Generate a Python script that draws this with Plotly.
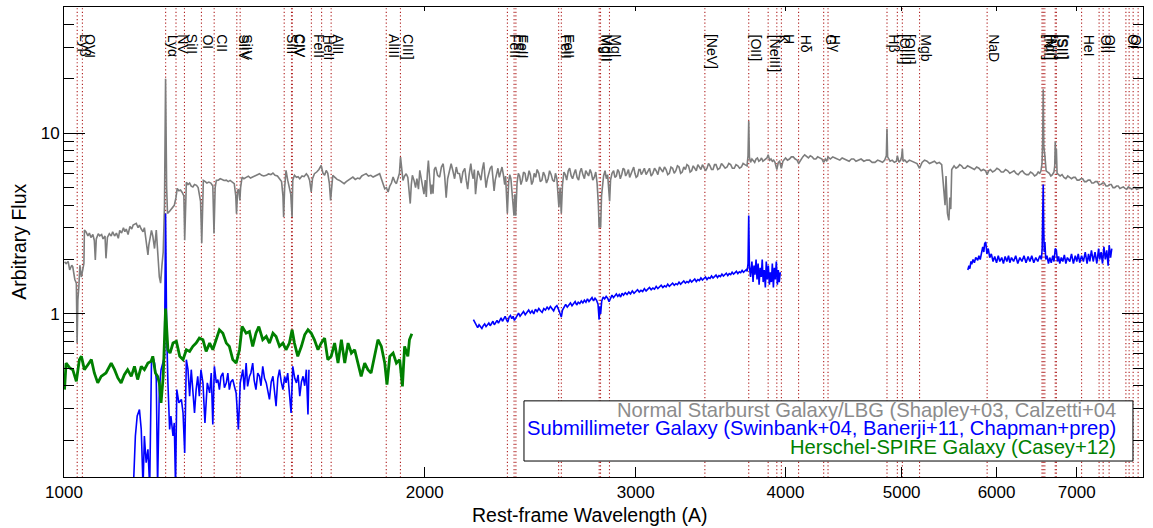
import numpy as np
import plotly.graph_objects as go

FONT = "Liberation Sans, Arial, Helvetica, sans-serif"

# ---------------- line list (rest-frame wavelength, label) ----------------
line_wave = [1025.7, 1036.0, 1215.67, 1240.1, 1260.4, 1302.2, 1334.5, 1393.8, 1402.8,
             1526.7, 1548.2, 1550.8, 1608.5, 1640.4, 1670.8, 1857.4, 1908.7,
             2344.2, 2374.5, 2382.8, 2586.7, 2600.2, 2796.4, 2803.5, 2852.1,
             3425.9, 3727.1, 3868.8, 3933.7, 3968.5, 4101.7, 4304.4, 4340.5,
             4861.3, 4958.9, 5006.8, 5175.0, 5892.5, 6548.0, 6562.8, 6583.5,
             6716.4, 6730.8, 7065.0, 7307.0, 7364.0, 7449.0, 7693.0, 7741.0, 7801.0, 7876.0]
line_name = ["Lyβ", "OVI", "Lyα", "NV", "SiII", "OI", "CII", "SiIV", "SiIV",
             "SiII", "CIV", "CIV", "FeII", "HeII", "AlII", "AlIII", "CIII]",
             "FeII", "FeII", "FeII", "FeII", "FeII", "MgII", "MgII", "MgI",
             "[NeV]", "[OII]", "[NeIII]", "K", "H", "Hδ", "G", "Hγ",
             "Hβ", "[OIII]", "[OIII]", "Mgb", "NaD", "[NII]", "Hα", "[NII]",
             "[SII]", "[SII]", "HeI", "OII", "OII", "", "OI", "OI", "", ""]

# ---------------- Normal starburst / LBG (grey) ----------------
gray_uv = [(1001,1.94),(1004,1.90),(1008,1.95),(1011,1.75),(1015,1.86),(1017,1.82),(1021,1.55),(1024,1.48),
 (1025.5,0.69),(1027,1.2),(1029,1.42),(1031,1.86),(1034,1.6),(1037,1.82),(1039,1.9),(1040,2.91),(1043,2.85),
 (1047,2.7),(1050,2.8),(1053,2.65),(1057,2.75),(1060,2.55),(1062,1.99),(1064,2.6),(1068,2.78),(1071,2.7),
 (1075,2.75),(1078,2.6),(1082,2.7),(1084,2.03),(1087,2.65),(1091,2.78),(1095,2.7),(1098,2.85),(1102,2.7),
 (1106,2.8),(1110,2.62),(1113,2.9),(1117,2.8),(1121,3.0),(1124,2.85),(1127,2.95),(1131,2.75),(1135,3.05),
 (1139,2.95),(1142,3.1),(1146,3.15),(1149,3.17),(1153,3.0),(1156,3.1),(1160,2.95),(1164,2.85),(1167,3.0),
 (1171,2.55),(1175,2.12),(1177,2.4),(1179,2.56),(1183,2.9),(1186,2.7),(1190,2.3),(1194,2.91),(1197,2.4),
 (1199,1.9),(1201,1.6),(1204,1.48),(1207,1.85),(1210,2.2),(1213,4.0),(1215.5,20.0),(1218,5.0),(1220,3.6),
 (1225,3.7),(1230,3.85),(1236,3.99),(1240,4.4),(1243,4.95),(1247,4.8),(1251,4.85),(1255,4.7),(1259,4.5),
 (1261,2.56),(1263,4.6),(1265,5.35),(1269,5.2),(1273,5.3),(1277,5.1),(1281,5.04),(1285,5.2),(1290,5.15),
 (1294,5.0),(1297,4.53),(1300,4.2),(1303,2.46),(1305,4.8),(1307,5.48),(1312,5.4),(1316,5.3),(1321,5.37),
 (1326,5.3),(1331,5.1),(1334,2.79),(1337,5.0),(1340,5.48),(1345,5.5),(1350,5.6),(1355,5.55),(1360,5.48),
 (1366,5.5),(1371,5.4),(1376,5.48),(1382,5.35),(1387,5.26),(1391,4.5),(1393,3.59),(1396,4.83),(1399,4.9),
 (1402,4.25),(1404,5.0),(1408,5.72),(1413,5.6),(1419,5.7),(1425,5.78),(1431,5.65),(1437,5.72),(1443,5.8),
 (1450,5.9),(1456,5.97),(1462,5.85),(1468,5.8),(1475,5.85),(1481,5.95),(1488,5.9),(1494,6.02),(1500,5.85),
 (1507,5.8),(1513,5.6),(1519,5.4),(1523,4.5),(1525,3.44),(1528,5.0),(1532,6.23),(1537,5.5),(1542,5.04),
 (1546,4.6),(1550,3.44),(1552,5.5),(1557,5.85),(1563,5.7),(1568,5.75),(1573,5.6),(1580,5.8),(1586,5.75),
 (1593,5.97),(1598,5.8),(1603,5.5),(1608,4.73),(1612,5.6),(1618,5.97),(1625,6.1),(1632,6.3),(1639,6.63),
 (1645,6.0),(1650,5.85),(1655,6.23),(1660,6.0),(1665,5.3),(1669,4.25),(1672,5.2),(1676,5.85),(1683,5.7),
 (1690,5.55),(1698,5.48),(1705,5.4),(1713,5.26),(1720,5.4),(1727,5.5),(1735,5.6),(1742,5.72),(1750,5.55),
 (1758,5.65),(1765,5.6),(1772,5.8),(1780,5.9),(1787,5.97),(1795,5.8),(1803,5.85),(1811,5.72),(1818,5.8),
 (1826,5.85),(1834,5.97),(1840,5.6),(1847,5.2),(1852,4.93),(1858,5.0),(1864,4.73),(1870,5.1),(1876,5.3),
 (1882,5.72),(1888,5.4),(1894,5.26),(1900,5.6),(1905,6.0),(1909,7.38),(1913,6.2),(1918,5.48),(1924,5.8),
 (1930,5.97),(1936,5.7),(1941,4.5),(1945,4.08),(1949,5.2),(1953,5.85),(1959,5.5),(1965,5.0),(1970,5.6),
 (1976,4.9),(1981,6.23),(1986,5.7),(1992,5.2),(1997,4.6),(2002,5.5),(2006,4.44),(2010,6.0),(2014,7.07),
 (2019,5.6),(2024,4.6),(2028,5.2),(2032,4.63),(2037,6.3),(2042,6.5),(2050,5.85),(2058,5.72),(2065,6.5),
 (2072,6.78),(2078,5.8),(2084,4.4),(2090,5.6),(2097,6.3),(2104,6.78),(2111,6.2),(2118,5.6),(2125,6.5),
 (2131,6.0),(2138,5.97)]

gray_opt = [(2145,5.3),(2152,6.1),(2160,6.4),(2166,5.5),(2172,4.9),(2178,5.9),(2185,6.8),(2190,6.0),(2195,5.6),
 (2200,6.3),(2205,4.6),(2210,5.4),(2215,6.2),(2221,5.9),(2228,5.5),(2234,6.3),(2240,6.9),(2245,5.8),(2250,5.0),
 (2256,5.6),(2262,5.9),(2268,6.4),(2275,6.6),(2280,5.7),(2285,4.8),(2290,5.5),(2296,6.1),(2302,6.4),(2308,5.7),
 (2314,6.0),(2320,6.5),(2326,5.9),(2332,5.2),(2336,5.8),(2340,4.9),(2344,3.6),(2350,5.4),(2355,5.9),(2360,5.6),
 (2367,4.2),(2374,3.5),(2378,4.6),(2382,3.5),(2388,5.3),(2394,6.0),(2400,5.8),(2406,5.2),(2412,5.5),(2418,6.1),
 (2425,6.0),(2431,5.4),(2437,5.6),(2444,6.2),(2450,5.9),(2456,5.2),(2462,5.4),(2468,6.0),(2475,5.7),(2482,6.3),
 (2490,6.0),(2497,5.4),(2505,5.5),(2512,6.1),(2520,5.8),(2527,5.3),(2535,5.6),(2542,6.2),(2550,5.9),(2557,5.5),
 (2565,5.4),(2571,6.0),(2578,5.6),(2585,4.4),(2588,3.9),(2594,5.0),(2600,3.6),(2606,5.2),(2613,6.1),(2620,5.9),
 (2627,5.5),(2635,6.2),(2642,6.4),(2650,5.8),(2657,5.6),(2665,6.0),(2672,6.3),(2680,5.7),(2688,5.5),(2695,6.1),
 (2702,6.4),(2710,5.9),(2718,5.6),(2725,6.2),(2733,6.0),(2740,5.8),(2748,6.3),(2755,6.0),(2762,5.5),(2770,5.7),
 (2778,6.1),(2785,5.3),(2792,4.0),(2796,3.0),(2800,3.4),(2804,3.0),(2809,4.5),(2815,5.6),(2820,5.8),(2828,6.2),
 (2835,5.6),(2842,5.9),(2848,4.9),(2853,4.2),(2858,5.5),(2866,6.0),(2875,6.2),(2882,5.7),(2890,5.8),(2898,6.3),
 (2905,6.1),(2912,5.6),(2920,5.9),(2928,6.4),(2935,6.3),(2942,5.8),(2950,6.0),(2958,6.3),(2965,5.7),(2972,5.9),
 (2980,6.2),(2988,6.5),(2995,6.0),(3002,5.7),(3010,5.8),(3018,6.3),(3025,6.3),(3032,5.9),(3040,6.1),(3050,6.4),
 (3060,5.9),(3070,6.2),(3080,6.4),(3090,5.8),(3100,6.0),(3110,6.4),(3120,6.2),(3130,5.9),(3140,6.5),(3150,6.3),
 (3160,6.1),(3170,6.5),(3180,6.3),(3190,5.9),(3200,6.0),(3210,6.5),(3220,6.4),(3230,6.0),(3240,6.2),(3250,6.6),
 (3260,6.5),(3270,6.0),(3280,6.1),(3290,6.5),(3300,6.3),(3310,6.7),(3320,6.6),(3330,6.1),(3340,6.2),(3350,6.6),
 (3360,6.4),(3370,6.2),(3380,6.7),(3390,6.5),(3400,6.3),(3410,6.7),(3420,6.5),(3430,6.2),(3440,6.4),(3450,6.8),
 (3460,6.6),(3470,6.3),(3480,6.3),(3490,6.7),(3500,6.7),(3512,6.3),(3525,6.4),(3537,6.8),(3550,6.6),(3562,6.4),
 (3575,6.5),(3587,6.8),(3600,6.7),(3612,6.4),(3625,6.4),(3637,6.7),(3650,6.6),(3662,6.4),(3675,6.5),(3687,6.8),
 (3700,6.7),(3715,6.6),(3722,7.5),(3727,11.7),(3732,7.4),(3740,6.9),(3750,7.2),(3760,7.0),(3770,6.9),(3780,7.2),
 (3790,7.3),(3800,7.0),(3810,7.1),(3820,7.3),(3830,7.0),(3840,7.1),(3850,7.2),(3860,7.3),(3869,7.6),(3880,7.1),
 (3890,7.2),(3900,7.0),(3910,7.1),(3920,6.9),(3934,6.3),(3945,6.9),(3955,7.0),(3968,6.4),(3980,7.0),(3990,7.2),
 (4000,7.3),(4015,7.1),(4030,7.2),(4045,7.4),(4060,7.4),(4075,7.2),(4090,7.1),(4102,6.8),(4120,7.2),(4135,7.4),
 (4150,7.6),(4165,7.4),(4180,7.3),(4195,7.5),(4210,7.4),(4225,7.2),(4240,7.2),(4255,7.4),(4270,7.3),(4290,7.2),
 (4304,6.9),(4318,7.2),(4330,7.0),(4340,7.4),(4360,7.2),(4380,7.4),(4400,7.3),(4420,7.2),(4440,7.1),(4460,7.3),
 (4480,7.2),(4500,7.1),(4520,7.0),(4540,7.2),(4560,7.2),(4580,7.0),(4600,7.1),(4625,7.2),(4650,7.0),(4675,7.1),
 (4700,7.1),(4725,6.9),(4750,6.9),(4775,7.1),(4800,7.0),(4820,6.9),(4840,7.1),(4855,7.5),(4861,10.6),(4867,7.4),
 (4890,7.0),(4910,7.1),(4930,6.9),(4950,7.0),(4959,7.5),(4975,6.9),(4990,7.1),(5000,7.4),(5007,8.2),(5014,7.0),
 (5030,7.1),(5050,6.9),(5075,7.1),(5100,7.0),(5125,6.9),(5150,6.8),(5175,6.4),(5200,6.9),(5225,7.1),(5250,7.0),
 (5275,6.8),(5300,6.9),(5325,7.0),(5350,6.8),(5375,6.9),(5400,6.7),(5420,5.2),(5435,4.0),(5445,5.8),(5460,3.6),
 (5475,3.3),(5485,4.4),(5495,3.8),(5505,6.3),(5530,6.6),(5550,6.4),(5570,6.5),(5590,6.7),(5610,6.6),(5630,6.4),
 (5650,6.4),(5675,6.6),(5700,6.5),(5725,6.4),(5750,6.3),(5775,6.5),(5800,6.4),(5825,6.2),(5850,6.3),(5875,6.2),
 (5893,5.9),(5910,6.2),(5930,6.3),(5955,6.1),(5980,6.2),(6005,6.4),(6030,6.3),(6055,6.1),(6080,6.1),(6105,6.3),
 (6130,6.2),(6155,6.0),(6180,6.1),(6205,6.2),(6230,6.0),(6255,5.9),(6280,6.1),(6305,6.2),(6330,6.0),(6355,5.9),
 (6380,5.9),(6405,6.1),(6430,6.0),(6455,5.8),(6480,5.9),(6500,6.1),(6520,6.0),(6535,6.2),(6548,6.8),(6556,9.0),
 (6563,17.5),(6570,8.5),(6584,7.5),(6600,6.2),(6620,6.1),(6640,6.0),(6660,5.8),(6680,5.9),(6700,6.1),(6710,6.6),
 (6717,9.0),(6724,6.8),(6731,8.2),(6740,6.0),(6760,5.9),(6780,5.8),(6805,5.9),(6830,5.7),(6855,5.6),(6880,5.8),
 (6905,5.7),(6930,5.6),(6955,5.7),(6980,5.7),(7005,5.5),(7030,5.5),(7055,5.6),(7080,5.6),(7105,5.4),(7130,5.4),
 (7155,5.5),(7180,5.5),(7205,5.3),(7230,5.3),(7255,5.4),(7280,5.4),(7305,5.2),(7330,5.2),(7355,5.3),(7380,5.3),
 (7405,5.1),(7430,5.1),(7455,5.2),(7480,5.2),(7505,5.0),(7530,5.0),(7555,5.1),(7580,5.1),(7605,4.95),(7630,5.0),
 (7655,5.05),(7680,4.95),(7705,4.9),(7730,5.05),(7755,4.95),(7780,4.9),(7805,5.0),(7830,5.0),(7855,4.9),
 (7880,4.95),(7950,5.0)]

# ---------------- Submillimeter galaxy (blue), three spectral pieces ----------------
blue_uv = [(1098,0.10),(1142,0.10),(1147,0.211),(1150,0.249),(1151,0.272),(1156,0.295),(1160,0.229),(1164,0.11),
 (1167,0.211),(1171,0.15),(1175,0.178),(1179,0.11),(1183,0.534),(1186,0.582),(1190,0.534),(1194,0.433),
 (1197,0.11),(1201,0.381),(1205,0.491),(1209,0.534),(1213,0.582),(1215.5,3.59),(1218,0.816),(1221,0.415),
 (1225,0.229),(1228,0.272),(1233,0.211),(1236,0.249),(1239,0.11),(1242,0.381),(1247,0.322),(1253,0.336),
 (1257,0.283),(1261,0.17),(1265,0.558),(1269,0.491),(1273,0.35),(1277,0.491),(1281,0.365),(1285,0.283),
 (1289,0.381),(1293,0.451),(1297,0.35),(1301,0.491),(1306,0.415),(1311,0.249),(1317,0.415),(1323,0.365),
 (1327,0.471),(1331,0.244),(1335,0.512),(1340,0.415),(1344,0.433),(1348,0.381),(1352,0.45),(1357,0.471),
 (1361,0.39),(1366,0.415),(1370,0.47),(1374,0.381),(1378,0.42),(1383,0.433),(1387,0.40),(1392,0.365),
 (1398,0.229),(1403,0.415),(1410,0.491),(1414,0.381),(1419,0.534),(1423,0.397),(1428,0.45),(1432,0.471),
 (1437,0.534),(1441,0.43),(1446,0.381),(1451,0.47),(1456,0.451),(1460,0.40),(1465,0.512),(1470,0.44),
 (1475,0.415),(1480,0.37),(1484,0.336),(1489,0.42),(1494,0.451),(1498,0.38),(1503,0.308),(1508,0.44),
 (1513,0.491),(1518,0.42),(1523,0.381),(1528,0.45),(1532,0.415),(1537,0.47),(1542,0.381),(1547,0.283),
 (1552,0.512),(1558,0.44),(1563,0.415),(1568,0.46),(1573,0.35),(1578,0.42),(1583,0.451),(1588,0.40),
 (1593,0.491),(1598,0.277),(1601,0.491)]

blue_mid = [(2196,0.93),(2202,0.90),(2208,0.86),(2214,0.84),(2220,0.87),(2226,0.85),(2232,0.83),(2238,0.86),
 (2244,0.88),(2250,0.85),(2256,0.87),(2262,0.89),(2268,0.86),(2274,0.88),(2280,0.91),(2286,0.87),(2292,0.9),
 (2298,0.92),(2304,0.89),(2310,0.93),(2316,0.95),(2322,0.91),(2328,0.94),(2334,0.97),(2340,0.93),(2346,0.9),
 (2352,0.96),(2358,0.98),(2364,0.94),(2370,0.97),(2376,0.92),(2382,0.95),(2388,0.99),(2395,1.01),(2402,0.97),
 (2410,1.0),(2418,1.03),(2426,0.99),(2434,1.02),(2442,1.05),(2450,1.01),(2458,1.04),(2466,1.0),(2474,1.06),
 (2482,1.03),(2490,1.07),(2498,1.04),(2506,1.02),(2514,1.07),(2522,1.05),(2530,1.09),(2538,1.06),(2546,1.1),
 (2554,1.07),(2562,1.04),(2570,1.09),(2578,1.11),(2586,1.06),(2592,1.0),(2600,0.96),(2606,1.05),(2614,1.1),
 (2622,1.13),(2630,1.09),(2638,1.12),(2646,1.15),(2654,1.11),(2662,1.14),(2670,1.17),(2678,1.12),(2686,1.16),
 (2694,1.14),(2702,1.18),(2710,1.15),(2718,1.19),(2726,1.16),(2734,1.21),(2742,1.17),(2750,1.2),(2758,1.23),
 (2766,1.18),(2774,1.22),(2782,1.19),(2790,1.13),(2796,0.93),(2800,1.1),(2804,1.0),(2810,1.18),(2818,1.24),
 (2826,1.21),(2834,1.25),(2842,1.22),(2850,1.17),(2858,1.23),(2866,1.27),(2874,1.23),(2882,1.26),(2890,1.29),
 (2898,1.25),(2906,1.28),(2914,1.24),(2922,1.3),(2930,1.27),(2940,1.31),(2950,1.28),(2960,1.32),(2970,1.29),
 (2980,1.34),(2990,1.3),(3000,1.33),(3010,1.36),(3020,1.32),(3030,1.35),(3040,1.33),(3050,1.38),(3060,1.34),
 (3070,1.37),(3080,1.4),(3090,1.36),(3100,1.39),(3110,1.37),(3120,1.42),(3130,1.38),(3140,1.41),(3150,1.44),
 (3160,1.4),(3170,1.43),(3180,1.41),(3190,1.46),(3200,1.42),(3210,1.45),(3220,1.48),(3230,1.44),(3240,1.47),
 (3250,1.45),(3260,1.5),(3270,1.46),(3280,1.49),(3290,1.52),(3300,1.48),(3310,1.51),(3320,1.49),(3330,1.54),
 (3340,1.5),(3350,1.53),(3360,1.56),(3370,1.51),(3380,1.55),(3390,1.53),(3400,1.58),(3410,1.54),(3420,1.57),
 (3430,1.6),(3440,1.55),(3450,1.59),(3460,1.57),(3470,1.62),(3480,1.58),(3490,1.61),(3500,1.64),(3510,1.59),
 (3520,1.63),(3530,1.61),(3540,1.66),(3550,1.62),(3560,1.65),(3570,1.68),(3580,1.63),(3590,1.67),(3600,1.65),
 (3610,1.7),(3620,1.66),(3630,1.69),(3640,1.72),(3650,1.67),(3660,1.71),(3670,1.69),(3680,1.74),(3690,1.7),
 (3700,1.73),(3710,1.76),(3716,1.72),(3722,1.9),(3727,3.5),(3732,1.85),(3740,1.6),(3750,1.95),(3758,1.5),
 (3765,1.85),(3772,1.65),(3780,2.0),(3787,1.55),(3795,1.9),(3802,1.45),(3810,1.8),(3818,1.6),(3825,2.0),
 (3832,1.5),(3840,1.75),(3848,1.4),(3855,1.95),(3862,1.55),(3870,1.85),(3878,1.45),(3885,1.7),(3893,1.5),
 (3900,1.9),(3908,1.4),(3915,1.8),(3922,1.55),(3930,1.95),(3938,1.45),(3945,1.75),(3952,1.5),(3960,1.7)]

blue_red = [(5678,1.75),(5690,1.85),(5700,1.78),(5712,1.95),(5721,1.88),(5735,2.0),(5750,1.92),(5765,2.05),
 (5787,1.98),(5800,2.1),(5815,2.0),(5830,2.25),(5843,2.35),(5855,2.2),(5865,2.45),(5877,2.5),(5890,2.15),
 (5905,2.3),(5922,2.05),(5940,2.15),(5960,1.95),(5979,2.08),(6000,1.92),(6020,2.1),(6038,1.95),(6060,2.05),
 (6080,1.9),(6100,2.08),(6120,1.95),(6140,2.1),(6155,1.92),(6175,2.05),(6200,1.95),(6225,2.1),(6250,1.9),
 (6275,2.05),(6300,1.95),(6325,2.1),(6350,1.92),(6375,2.08),(6397,1.95),(6420,2.1),(6445,1.92),(6470,2.05),
 (6495,1.95),(6520,2.1),(6540,2.0),(6550,2.3),(6557,3.0),(6563,5.2),(6569,3.0),(6576,2.2),(6584,2.5),
 (6595,2.0),(6610,2.1),(6630,1.9),(6646,2.05),(6665,1.92),(6685,2.1),(6700,1.95),(6717,2.3),(6731,2.25),
 (6745,1.95),(6760,2.08),(6775,1.9),(6795,2.05),(6815,1.95),(6835,2.12),(6855,1.9),(6875,2.05),(6907,1.95),
 (6930,2.15),(6955,1.9),(6980,2.1),(7000,1.95),(7020,2.15),(7040,1.92),(7065,2.1),(7090,1.95),(7115,2.2),
 (7140,1.9),(7160,2.15),(7178,1.95),(7200,2.25),(7225,1.95),(7250,2.2),(7275,1.9),(7300,2.3),(7315,2.0),
 (7335,2.2),(7355,1.9),(7375,2.35),(7395,2.0),(7415,2.25),(7435,1.85),(7450,2.4),(7470,2.05),(7487,2.3)]

# ---------------- Herschel-SPIRE galaxy (green) ----------------
green = [(1001,0.381),(1004,0.534),(1011,0.502),(1017,0.491),(1024,0.423),(1030,0.558),(1034,0.582),(1040,0.491),
 (1047,0.523),(1054,0.558),(1060,0.471),(1067,0.415),(1074,0.451),(1084,0.471),(1095,0.534),(1102,0.491),
 (1109,0.442),(1116,0.415),(1123,0.461),(1130,0.491),(1138,0.451),(1145,0.512),(1152,0.433),(1160,0.512),
 (1167,0.491),(1175,0.534),(1182,0.546),(1186,0.582),(1192,0.471),(1197,0.451),(1201,0.415),(1205,0.322),
 (1210,0.451),(1215.5,1.07),(1221,0.633),(1226,0.607),(1233,0.689),(1241,0.704),(1249,0.582),(1257,0.558),
 (1265,0.633),(1273,0.62),(1281,0.661),(1289,0.689),(1297,0.734),(1306,0.719),(1314,0.62),(1323,0.689),
 (1331,0.633),(1340,0.719),(1348,0.816),(1357,0.782),(1366,0.689),(1374,0.661),(1383,0.558),(1392,0.534),
 (1401,0.633),(1408,0.851),(1419,0.782),(1428,0.799),(1437,0.661),(1446,0.782),(1454,0.851),(1465,0.719),
 (1475,0.75),(1484,0.689),(1494,0.782),(1503,0.75),(1513,0.661),(1523,0.689),(1532,0.633),(1542,0.689),
 (1550,0.816),(1557,0.689),(1567,0.582),(1578,0.661),(1588,0.766),(1598,0.816),(1608,0.782),(1618,0.719),
 (1629,0.633),(1639,0.689),(1650,0.734),(1660,0.558),(1671,0.582),(1682,0.689),(1693,0.534),(1704,0.719),
 (1715,0.534),(1726,0.689),(1737,0.607),(1748,0.633),(1759,0.534),(1770,0.451),(1782,0.534),(1793,0.491),
 (1804,0.471),(1816,0.582),(1828,0.719),(1840,0.661),(1852,0.534),(1860,0.406),(1870,0.582),(1882,0.607),
 (1894,0.534),(1906,0.558),(1916,0.397),(1924,0.661),(1936,0.582),(1942,0.719),(1951,0.776)]

x_tick_vals = [1000, 2000, 3000, 4000, 5000, 6000, 7000]
y_tick_vals = [1, 10]
y_minor_vals = [0.2, 0.3, 0.4, 0.5, 0.6, 0.7, 0.8, 0.9, 2, 3, 4, 5, 6, 7, 8, 9, 20, 30, 40]
x_range = [1000, 7950]
y_range = [0.125, 50]

legend_text = ["Normal Starburst Galaxy/LBG (Shapley+03, Calzetti+04",
               "Submillimeter Galaxy (Swinbank+04, Banerji+11, Chapman+prep)",
               "Herschel-SPIRE Galaxy (Casey+12)"]
GRAY_LINE = "rgb(125,125,125)"
GRAY_TEXT = "rgb(140,140,140)"
BLUE = "rgb(0,0,255)"
GREEN = "rgb(0,128,0)"
legend_colors = [GRAY_TEXT, BLUE, GREEN]


def unzip(pairs):
    return [p[0] for p in pairs], [p[1] for p in pairs]


fig = go.Figure()

# dotted vertical lines for the spectral features
lx, ly = [], []
for w in line_wave:
    lx += [w, w, None]
    ly += [y_range[0] * 0.5, y_range[1] * 2, None]
fig.add_trace(go.Scatter(x=lx, y=ly, mode="lines", hoverinfo="skip", showlegend=False,
                         line=dict(color="rgb(175,30,30)", width=1.1, dash="1.2px,2.4px")))

gw, gf = unzip(gray_uv + gray_opt)
fig.add_trace(go.Scatter(x=gw, y=gf, mode="lines", line=dict(color=GRAY_LINE, width=1.6), showlegend=False))

for seg in (blue_uv, blue_mid, blue_red):
    bw, bf = unzip(seg)
    fig.add_trace(go.Scatter(x=bw, y=bf, mode="lines", line=dict(color=BLUE, width=1.6), showlegend=False))

grw, grf = unzip(green)
fig.add_trace(go.Scatter(x=grw, y=grf, mode="lines", line=dict(color=GREEN, width=2.8), showlegend=False))

# invisible trace on the top axis so it is drawn
fig.add_trace(go.Scatter(x=[x_range[0]], y=[1], xaxis="x2", mode="markers",
                         marker=dict(opacity=0), hoverinfo="skip", showlegend=False))

# line labels
for w, n in zip(line_wave, line_name):
    if not n:
        continue
    fig.add_annotation(x=np.log10(w), y=0.944, xref="x", yref="paper", text=n, textangle=90,
                       showarrow=False, xanchor="left", yanchor="top", borderpad=0, xshift=-2,
                       font=dict(family=FONT, size=14, color="black"))

# legend box
fig.add_shape(type="rect", xref="paper", yref="paper", x0=0.4263, x1=0.9907, y0=0.034, y1=0.162,
              fillcolor="white", line=dict(color="black", width=1), layer="above")
for i, (t, c) in enumerate(zip(legend_text, legend_colors)):
    fig.add_annotation(x=0.9768, y=0.1426 - i * 0.0394, xref="paper", yref="paper", text=t,
                       showarrow=False, xanchor="right", yanchor="middle",
                       font=dict(family=FONT, size=20.2, color=c))

# axis titles
fig.add_annotation(x=0.4875, y=-0.081, xref="paper", yref="paper", text="Rest-frame Wavelength (A)",
                   showarrow=False, xanchor="center", yanchor="middle",
                   font=dict(family=FONT, size=19.5, color="black"))
fig.add_annotation(x=-0.042, y=0.5, xref="paper", yref="paper", text="Arbitrary Flux", textangle=-90,
                   showarrow=False, xanchor="center", yanchor="middle",
                   font=dict(family=FONT, size=19.5, color="black"))

fig.update_layout(
    width=1153, height=528,
    margin=dict(l=64, r=10, t=7, b=51, autoexpand=False),
    paper_bgcolor="white", plot_bgcolor="white",
    showlegend=False,
    font=dict(family=FONT, color="black"),
    xaxis=dict(type="log", range=[np.log10(x_range[0]), np.log10(x_range[1])], automargin=False,
               tickmode="array", tickvals=x_tick_vals, ticktext=[str(v) for v in x_tick_vals],
               ticks="inside", ticklen=10, tickcolor="black", tickwidth=1,
               showline=True, linecolor="black", linewidth=1, mirror=True,
               showgrid=False, zeroline=False, tickfont=dict(size=17, family=FONT, color="black")),
    xaxis2=dict(type="log", range=[np.log10(x_range[0]), np.log10(x_range[1])], overlaying="x",
                side="top", tickmode="array", tickvals=x_tick_vals, showticklabels=False, automargin=False,
                ticks="inside", ticklen=4, tickcolor="black", showline=False, showgrid=False,
                zeroline=False),
    yaxis=dict(type="log", range=[np.log10(y_range[0]), np.log10(y_range[1])], automargin=False,
               tickmode="array", tickvals=y_tick_vals, ticktext=["1", "10"],
               ticks="inside", ticklen=21, tickcolor="black", tickwidth=1,
               minor=dict(tickmode="array", tickvals=y_minor_vals, ticks="inside", ticklen=10,
                          tickcolor="black", showgrid=False),
               showline=True, linecolor="black", linewidth=1, mirror="ticks",
               showgrid=False, zeroline=False, tickfont=dict(size=17, family=FONT, color="black")),
)

fig.write_html("out.html", config={"displayModeBar": False},
               post_script="document.body.style.margin='0';document.body.style.overflow='hidden';")
